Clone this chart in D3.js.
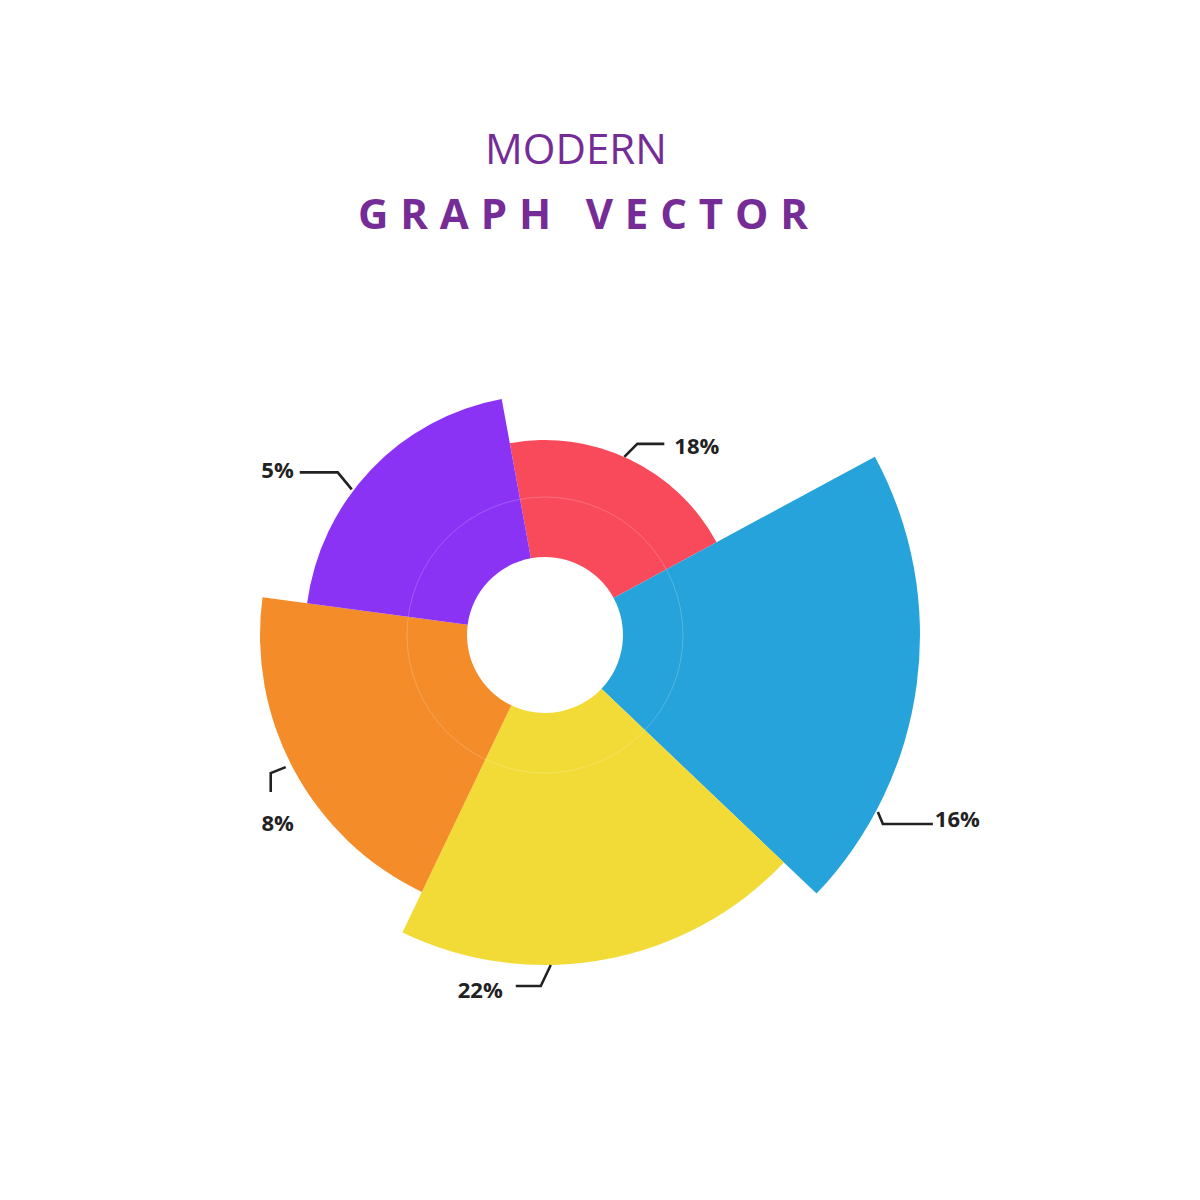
<!DOCTYPE html>
<html>
<head>
<meta charset="utf-8">
<script src="https://cdn.jsdelivr.net/npm/d3@7"></script>
<style>
  html, body { margin: 0; padding: 0; background: #fff; }
  svg { display: block; }
</style>
</head>
<body>
<div id="chart"></div>
<script>
// slices, clockwise from the top
var labels = ["18%", "16%", "22%", "8%", "5%"];
var sizes  = [1, 5, 4, 3, 2];          // radial step of each petal
var colors = ["#F94A5B", "#26A3DA", "#F2DB36", "#F48C2A", "#8A33F5"];

// leader line layout: angle on the petal edge, elbow, tail, text offset
var leaders = [
  { ang: 24,  gap: 0, elbow: [13, -13], tail: [27, 0],  text: [10, 2],  anchor: "start" },
  { ang: 118, gap: 2, elbow: [5, 12],   tail: [50, 0],  text: [2, -5],  anchor: "start" },
  { ang: 179, gap: 0, elbow: [-10, 21], tail: [-25, 0], text: [-13, 4], anchor: "end" },
  { ang: 243, gap: 6, elbow: [-15, 6],  tail: [0, 19],  text: [7, 31],  anchor: "middle" },
  { ang: 307, gap: 2, elbow: [-14, -17],tail: [-38, 0], text: [-6, -2], anchor: "end" }
];

var W = 1200, H = 1200;
var cx = 545, cy = 635;
var inner = 78;
var rad = Math.PI / 180;

var svg = d3.select("#chart").append("svg")
  .attr("width", W)
  .attr("height", H);

// title
svg.append("text")
  .attr("x", 576)
  .attr("y", 164)
  .attr("text-anchor", "middle")
  .attr("font-family", "'Open Sans', sans-serif")
  .attr("font-size", 42)
  .attr("fill", "#762C96")
  .text("MODERN");

svg.append("text")
  .attr("x", 358)
  .attr("y", 229)
  .attr("textLength", 450)
  .attr("lengthAdjust", "spacing")
  .attr("font-family", "'Open Sans', sans-serif")
  .attr("font-weight", 700)
  .attr("font-size", 42)
  .attr("fill", "#762C96")
  .text("GRAPH VECTOR");

var r = d3.scaleLinear().domain([0, 5]).range([150, 375]);

var pie = d3.pie()
  .value(function() { return 1; })
  .sort(null)
  .startAngle(-10.4 * rad)
  .endAngle(349.6 * rad);

var arc = d3.arc()
  .innerRadius(inner)
  .outerRadius(function(d) { return r(d.data.size); });

var rows = labels.map(function(l, i) {
  return { label: l, size: sizes[i], color: colors[i], lead: leaders[i] };
});

var g = svg.append("g").attr("transform", "translate(" + cx + "," + cy + ")");

g.selectAll("path.petal")
  .data(pie(rows))
  .enter().append("path")
  .attr("class", "petal")
  .attr("fill", function(d) { return d.data.color; })
  .attr("d", arc);

// faint ring
g.append("circle")
  .attr("r", 138)
  .attr("fill", "none")
  .attr("stroke", "#fff")
  .attr("stroke-opacity", 0.2)
  .attr("stroke-width", 1);

// leaders and values
rows.forEach(function(d) {
  var L = d.lead;
  var rr = r(d.size) + L.gap;
  var a = L.ang * rad;
  var x0 = Math.sin(a) * rr, y0 = -Math.cos(a) * rr;
  var x1 = x0 + L.elbow[0], y1 = y0 + L.elbow[1];
  var x2 = x1 + L.tail[0], y2 = y1 + L.tail[1];

  g.append("path")
    .attr("d", d3.line()([[x0, y0], [x1, y1], [x2, y2]]))
    .attr("fill", "none")
    .attr("stroke", "#222")
    .attr("stroke-width", 2.6);

  g.append("text")
    .attr("x", x2 + L.text[0])
    .attr("y", y2 + L.text[1])
    .attr("dy", "0.35em")
    .attr("text-anchor", L.anchor)
    .attr("font-family", "'Open Sans', sans-serif")
    .attr("font-weight", 700)
    .attr("font-size", 22)
    .attr("fill", "#222")
    .text(d.label);
});
</script>
</body>
</html>
